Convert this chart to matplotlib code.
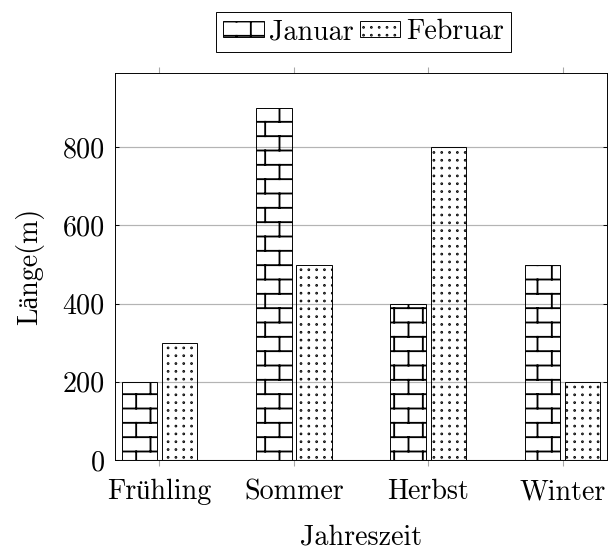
import numpy as np
import matplotlib
matplotlib.use('Agg')
import matplotlib.pyplot as plt
import matplotlib.hatch as mhatch
from matplotlib.path import Path
from matplotlib.patches import Patch

# ---------------- data ----------------
categories = ['Frühling', 'Sommer', 'Herbst', 'Winter']
januar = [200, 900, 400, 500]
februar = [300, 500, 800, 200]
series_names = ['Januar', 'Februar']
ytick_values = [0, 200, 400, 600, 800]
ytick_labels = ['0', '200', '400', '600', '800']
x_label = 'Jahreszeit'
y_label = 'Länge(m)'

DPI = 86
FS = 23.5

plt.rcParams['font.family'] = ['cmr10', 'Liberation Serif']
plt.rcParams['axes.formatter.use_mathtext'] = True
plt.rcParams['hatch.linewidth'] = 1.55


# ---------------- custom hatch patterns (bricks / dots) ----------------
def _bricks_path(n=3):
    verts, codes = [], []
    s = 1.0 / n

    def seg(p0, p1):
        verts.extend([p0, p1])
        codes.extend([Path.MOVETO, Path.LINETO])

    for j in range(n):
        y0 = j * s
        seg((0.0, y0 + s / 4), (1.0, y0 + s / 4))
        seg((0.0, y0 + 3 * s / 4), (1.0, y0 + 3 * s / 4))
        for i in range(n):
            x0 = i * s
            seg((x0 + s / 4, y0 + s / 4), (x0 + s / 4, y0 + 3 * s / 4))
            a, b = y0 + 3 * s / 4, y0 + 5 * s / 4
            seg((x0 + 3 * s / 4, a), (x0 + 3 * s / 4, b))
            if b > 1.0:
                seg((x0 + 3 * s / 4, a - 1.0), (x0 + 3 * s / 4, b - 1.0))
    return Path(np.array(verts), np.array(codes, dtype=Path.code_type))


def _dots_path(m=11, r=0.005):
    verts, codes = [], []
    t = np.linspace(0, 2 * np.pi, 9)
    for i in range(m):
        for j in range(m):
            cx, cy = (i + 0.5) / m, (j + 0.5) / m
            pts = np.column_stack([cx + r * np.cos(t), cy + r * np.sin(t)])
            verts.extend(pts.tolist())
            codes.extend([Path.MOVETO] + [Path.LINETO] * 7 + [Path.CLOSEPOLY])
    return Path(np.array(verts), np.array(codes, dtype=Path.code_type))


_BRICKS = _bricks_path()
_DOTS = _dots_path()
_orig_get_path = mhatch.get_path


def _get_path(hatchpattern, density=6):
    if hatchpattern == 'x':
        return _BRICKS
    if hatchpattern == 'o':
        return _DOTS
    return _orig_get_path(hatchpattern, density)


mhatch.get_path = _get_path

# ---------------- figure ----------------
W, H = 609, 551
fig = plt.figure(figsize=(7.0815, 6.4071), dpi=DPI)
ax = fig.add_axes([115 / W, (H - 460) / H, 492 / W, 387 / H])

x = np.arange(len(categories))
bw = 0.264
off = 0.149
hatches = ['x', 'o']
for vals, sgn, h in zip([januar, februar], [-1, 1], hatches):
    ax.bar(x + sgn * off, vals, width=bw, facecolor='none', edgecolor='black',
           linewidth=0.8, hatch=h, zorder=2)

ax.set_xlim(-0.33, 3.33)
ax.set_ylim(0, 990)
ax.set_xticks(x)
ax.set_xticklabels(categories, fontsize=FS)
ax.set_yticks(ytick_values)
ax.set_yticklabels(ytick_labels, fontsize=FS)

ax.set_axisbelow(True)
ax.yaxis.grid(True, color='#b4b4b4', linewidth=1.0, zorder=0)

ax.tick_params(axis='x', direction='out', top=True, bottom=True, length=5,
               width=0.9, color='#a8a8a8', pad=11)
ax.tick_params(axis='y', direction='in', left=True, right=True, length=3.5,
               width=0.8, color='black', pad=8.4)
for sp in ax.spines.values():
    sp.set_linewidth(0.8)
    sp.set_color('black')

ax.set_xlabel(x_label, fontsize=FS, va='top')
ax.xaxis.set_label_coords(0.5, -(524 - 460) / 387)
ax.set_ylabel(y_label, fontsize=FS)
ax.yaxis.set_label_coords(-(115 - 44) / 492, 0.5)

handles = [Patch(facecolor='none', edgecolor='black', linewidth=0.8, hatch=h)
           for h in hatches]
leg = ax.legend(handles, series_names, loc='lower center',
                bbox_to_anchor=(0.505, 1.054), ncol=2, frameon=True, fancybox=False,
                edgecolor='black', framealpha=1, borderaxespad=0,
                handlelength=1.45, handleheight=0.5, handletextpad=0.2,
                columnspacing=0.2, borderpad=0.25, fontsize=FS)
leg.get_frame().set_linewidth(0.8)

fig.savefig('out.png', dpi=DPI)
